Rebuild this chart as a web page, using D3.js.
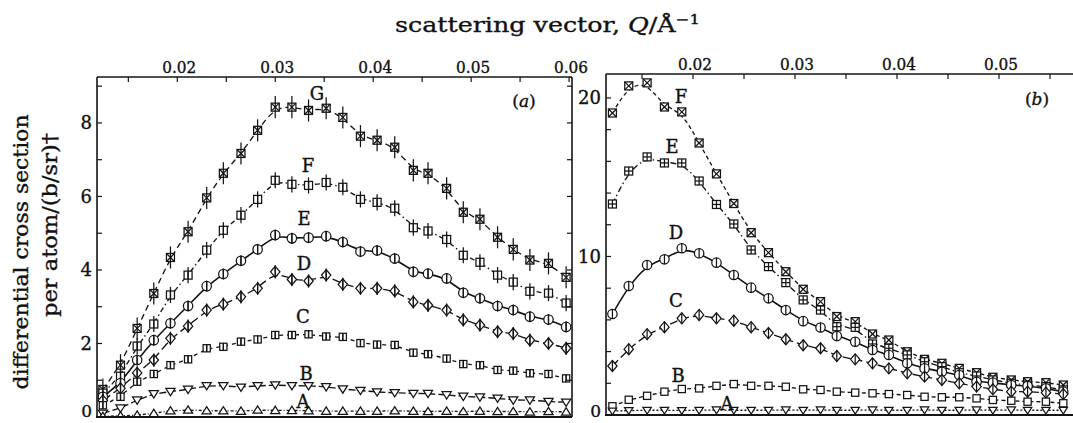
<!DOCTYPE html>
<html><head><meta charset="utf-8">
<script src="https://cdn.jsdelivr.net/npm/d3@7"></script>
<style>
html,body{margin:0;padding:0;background:#fff;}
svg{display:block;}
text{font-family:"DejaVu Serif","Liberation Serif",serif;fill:#111;stroke:#111;stroke-width:0.35;}
</style></head><body>
<svg id="chart" width="1073" height="423"></svg>
<script>
// ---------------- data ----------------
// panel (a)
const qA = [0.0124,0.0142,0.0159,0.0176,0.0193,0.0211,0.0230,0.0247,0.0265,0.0282,0.0300,0.0317,0.0334,0.0352,0.0369,0.0387,0.0404,0.0422,0.0441,0.0456,0.0475,0.0492,0.0509,0.0527,0.0543,0.0560,0.0579,0.0597];
const gA = [0.75,1.41,2.41,3.36,4.34,5.04,5.96,6.63,7.17,7.80,8.43,8.43,8.34,8.40,8.15,7.64,7.53,7.34,6.71,6.63,6.22,5.57,5.38,4.89,4.56,4.27,4.18,3.80];
const fA = [0.65,1.11,1.93,2.53,3.32,3.86,4.54,5.08,5.49,5.92,6.44,6.33,6.30,6.38,6.25,5.92,5.84,5.68,5.15,5.06,4.83,4.40,4.21,3.86,3.67,3.42,3.37,3.10];
const eA = [0.55,0.92,1.55,2.09,2.55,3.02,3.56,3.89,4.25,4.56,4.95,4.86,4.88,4.92,4.76,4.50,4.53,4.31,3.95,3.90,3.77,3.38,3.23,3.02,2.91,2.73,2.65,2.45];
const dA = [0.45,0.78,1.20,1.55,2.14,2.47,2.91,3.07,3.27,3.50,3.95,3.74,3.70,3.86,3.61,3.50,3.50,3.43,3.13,3.04,2.91,2.64,2.50,2.32,2.27,2.09,2.00,1.87];
const cA = [0.32,0.55,0.96,1.17,1.41,1.57,1.87,1.91,2.05,2.11,2.23,2.23,2.25,2.19,2.18,2.01,1.97,1.96,1.75,1.71,1.59,1.44,1.41,1.28,1.26,1.19,1.17,1.05];
const bA = [0.10,0.24,0.46,0.63,0.69,0.75,0.85,0.85,0.81,0.85,0.87,0.85,0.85,0.82,0.76,0.72,0.68,0.66,0.64,0.64,0.60,0.56,0.54,0.51,0.46,0.46,0.42,0.40];
const aA = [0.02,0.03,0.05,0.10,0.17,0.19,0.17,0.17,0.16,0.19,0.18,0.18,0.17,0.16,0.16,0.16,0.16,0.17,0.16,0.15,0.16,0.15,0.16,0.15,0.15,0.14,0.15,0.14];
const errA = {G:0.30, F:0.22, E:0.15, D:0.18, C:0.08, B:0, A:0};

// panel (b)
const qB = [0.0121,0.0137,0.0155,0.0172,0.0189,0.0206,0.0223,0.0240,0.0257,0.0274,0.0291,0.0308,0.0325,0.0341,0.0359,0.0376,0.0392,0.0410,0.0427,0.0444,0.0461,0.0478,0.0494,0.0512,0.0528,0.0546,0.0563];
const fB = [19.05,20.76,20.95,19.43,19.12,17.16,15.21,13.34,11.50,10.24,9.04,7.93,7.15,6.21,5.89,5.11,4.73,3.99,3.51,3.26,2.94,2.67,2.38,2.21,2.10,2.04,1.89];
const eB = [13.31,15.39,16.28,15.90,15.90,14.76,13.28,12.05,10.41,9.36,8.35,7.26,6.62,5.57,5.53,4.48,4.21,3.79,3.36,3.05,2.67,2.46,2.21,2.00,1.89,1.79,1.58];
const dB = [6.37,8.14,9.46,9.82,10.52,10.20,9.61,8.83,8.03,7.36,6.62,5.92,5.52,4.98,4.62,4.10,3.79,3.26,2.94,2.73,2.52,2.10,2.04,1.89,1.83,1.68,1.47];
const cB = [3.09,4.15,5.10,5.54,6.10,6.31,6.10,5.95,5.54,5.17,4.78,4.40,4.21,3.72,3.51,3.26,2.94,2.63,2.42,2.21,2.00,1.79,1.62,1.47,1.47,1.41,1.32];
const bB = [0.55,0.96,1.21,1.47,1.64,1.68,1.84,1.95,1.84,1.84,1.78,1.62,1.58,1.47,1.41,1.37,1.32,1.26,1.15,1.12,1.12,1.05,0.95,0.90,0.84,0.84,0.74];
const aB = [0.25,0.28,0.30,0.30,0.28,0.30,0.32,0.30,0.30,0.30,0.32,0.30,0.32,0.30,0.30,0.32,0.30,0.30,0.32,0.30,0.30,0.32,0.30,0.32,0.30,0.30,0.30];

// ticks
const xTicksA = [0.015,0.02,0.025,0.03,0.035,0.04,0.045,0.05,0.055,0.06];
const xLabelsA = [0.02,0.03,0.04,0.05,0.06];
const yTicksA = [1,2,3,4,5,6,7,8,9];
const yLabelsA = [0,2,4,6,8];
const xTicksB = [0.015,0.02,0.025,0.03,0.035,0.04,0.045,0.05,0.055];
const xLabelsB = [0.02,0.03,0.04,0.05];
const yTicksB = [2,4,6,8,10,12,14,16,18,20];
const yLabelsB = [0,10,20];

// ---------------- layout / style ----------------
const svg = d3.select('#chart');
const INK = '#141414';

const panels = [
  {key:'a', x0:97, x1:572, y0:77, y1:417, qd:[0.0118,0.0603], vd:[0,9.25], q:qA,
   xt:xTicksA, xl:xLabelsA, yt:yTicksA, yl:yLabelsA, rightAxis:true, tagPos:[524,107],
   series:[
     {name:'G', v:gA, mk:'sqx', s:4,   dash:'6,4',        err:errA.G, lab:[317,100]},
     {name:'F', v:fA, mk:'sqv', s:4,   dash:'5,3,1.5,3',  err:errA.F, lab:[308,172]},
     {name:'E', v:eA, mk:'cv',  s:4.7, dash:null,         err:errA.E, lab:[304,225]},
     {name:'D', v:dA, mk:'dv',  s:5.5, dash:'9,4',        err:errA.D, lab:[304,270]},
     {name:'C', v:cA, mk:'sqv', s:3.6, dash:'4,4',        err:errA.C, lab:[303,323]},
     {name:'B', v:bA, mk:'tdown', s:4.6, dash:'7,3',      err:errA.B, lab:[306,380]},
     {name:'A', v:aA, mk:'tup', s:4.6, dash:'3,2,1,2',    err:errA.A, lab:[303,408]}
   ]},
  {key:'b', x0:606, x1:1100, y0:74, y1:415, qd:[0.01147,0.0599], vd:[0,21.51], q:qB,
   xt:xTicksB, xl:xLabelsB, yt:yTicksB, yl:yLabelsB, rightAxis:false, tagPos:[1037,105],
   series:[
     {name:'F', v:fB, mk:'sqx', s:4,   dash:'4,3',        err:0, lab:[681,103]},
     {name:'E', v:eB, mk:'sqp', s:4,   dash:'6,3,1.5,3',  err:0, lab:[672,153]},
     {name:'D', v:dB, mk:'cv',  s:4.7, dash:null,         err:0, lab:[676,239]},
     {name:'C', v:cB, mk:'dv',  s:5.5, dash:'8,4',        err:0, lab:[676,307]},
     {name:'B', v:bB, mk:'sq',  s:3.6, dash:'4,3',        err:0, lab:[678,382]},
     {name:'A', v:aB, mk:'tdown', s:4.2, dash:'2,2',      err:0, lab:[727,410]}
   ]}
];

function marker(g, type, cx, cy, s) {
  const st = {stroke:INK, 'stroke-width':1.25, fill:'#fff'};
  const add = (tag, attrs) => { const e = g.append(tag); Object.entries({...st, ...attrs}).forEach(([k,v])=>e.attr(k,v)); return e; };
  const ln = (x1,y1,x2,y2) => add('line',{x1,y1,x2,y2,fill:'none'});
  switch(type){
    case 'sqx': add('rect',{x:cx-s,y:cy-s,width:2*s,height:2*s}); ln(cx-s,cy-s,cx+s,cy+s); ln(cx-s,cy+s,cx+s,cy-s); break;
    case 'sqp': add('rect',{x:cx-s,y:cy-s,width:2*s,height:2*s}); ln(cx-s,cy,cx+s,cy); ln(cx,cy-s,cx,cy+s); break;
    case 'sqv': add('rect',{x:cx-s,y:cy-s,width:2*s,height:2*s}); ln(cx,cy-s,cx,cy+s); break;
    case 'sq':  add('rect',{x:cx-s,y:cy-s,width:2*s,height:2*s}); break;
    case 'cv':  add('circle',{cx,cy,r:s}); ln(cx,cy-s,cx,cy+s); break;
    case 'dv':  add('path',{d:`M${cx},${cy-s}L${cx+s*0.85},${cy}L${cx},${cy+s}L${cx-s*0.85},${cy}Z`}); ln(cx,cy-s,cx,cy+s); break;
    case 'tdown': add('path',{d:`M${cx-s},${cy-s*0.7}L${cx+s},${cy-s*0.7}L${cx},${cy+s*0.9}Z`}); break;
    case 'tup': add('path',{d:`M${cx-s},${cy+s*0.7}L${cx+s},${cy+s*0.7}L${cx},${cy-s*0.9}Z`}); break;
  }
}

panels.forEach(p => {
  const x = d3.scaleLinear().domain(p.qd).range([p.x0, p.x1]);
  const y = d3.scaleLinear().domain(p.vd).range([p.y1, p.y0]);
  const clipId = 'clip-' + p.key;
  svg.append('clipPath').attr('id', clipId).append('rect')
    .attr('x', p.x0).attr('y', p.y0 - 10).attr('width', Math.min(p.x1, 1073) - p.x0).attr('height', p.y1 - p.y0 + 10);
  const g = svg.append('g').attr('clip-path', `url(#${clipId})`);

  // curves
  p.series.forEach(sr => {
    const pts = p.q.map((q,i)=>[q, sr.v[i]]);
    const line = d3.line().x(d=>x(d[0])).y(d=>y(d[1])).curve(d3.curveBasis);
    g.append('path').attr('d', line(pts)).attr('fill','none').attr('stroke',INK)
      .attr('stroke-width', sr.dash ? 1.35 : 1.6).attr('stroke-dasharray', sr.dash);
  });
  // markers + error bars
  p.series.forEach(sr => {
    const mg = g.append('g');
    p.q.forEach((q,i) => {
      const cx = x(q), cy = y(sr.v[i]);
      marker(mg, sr.mk, cx, cy, sr.s);
      if (sr.err > 0) {
        mg.append('line').attr('x1',cx).attr('x2',cx)
          .attr('y1', Math.min(y(sr.v[i]+sr.err), cy - sr.s)).attr('y2', Math.max(y(sr.v[i]-sr.err), cy + sr.s))
          .attr('stroke',INK).attr('stroke-width',1.25);
      }
    });
  });

  // frame
  const fr = svg.append('g').attr('stroke',INK).attr('fill','none');
  const xr = Math.min(p.x1, 1080);
  fr.append('line').attr('x1',p.x0).attr('x2',xr).attr('y1',p.y0).attr('y2',p.y0).attr('stroke-width',1.5);
  fr.append('line').attr('x1',p.x0).attr('x2',p.x0).attr('y1',p.y0).attr('y2',p.y1).attr('stroke-width',1.6);
  fr.append('line').attr('x1',p.x0-1).attr('x2',xr).attr('y1',p.y1).attr('y2',p.y1).attr('stroke-width',2.2);
  if (p.rightAxis) fr.append('line').attr('x1',p.x1).attr('x2',p.x1).attr('y1',p.y0).attr('y2',p.y1).attr('stroke-width',1.6);

  // ticks (inward)
  const tl = 5;
  p.xt.forEach(t => fr.append('line').attr('x1',x(t)).attr('x2',x(t)).attr('y1',p.y0).attr('y2',p.y0+tl).attr('stroke-width',1.2));
  p.yt.forEach(t => {
    fr.append('line').attr('x1',p.x0).attr('x2',p.x0+tl).attr('y1',y(t)).attr('y2',y(t)).attr('stroke-width',1.2);
    if (p.rightAxis) fr.append('line').attr('x1',p.x1).attr('x2',p.x1-tl).attr('y1',y(t)).attr('y2',y(t)).attr('stroke-width',1.2);
  });
  // tick labels
  p.xl.forEach(t => svg.append('text').attr('x', x(t)+2).attr('y', p.y0-4).attr('text-anchor','middle')
     .attr('font-size',16).attr('textLength',34).attr('lengthAdjust','spacingAndGlyphs').text(d3.format('.2f')(t)));
  p.yl.forEach(t => svg.append('text').attr('x', p.x0-5).attr('y', Math.min(y(t) + 6.5, 417)).attr('text-anchor','end')
     .attr('font-size', t === 0 ? 17 : 18).text(t));

  // series labels
  p.series.forEach(sr => svg.append('text').attr('x',sr.lab[0]).attr('y',sr.lab[1]).attr('text-anchor','middle')
     .attr('font-size',18).text(sr.name));
  // panel tag
  const tg = svg.append('text').attr('x',p.tagPos[0]).attr('y',p.tagPos[1]).attr('text-anchor','middle').attr('font-size',17);
  tg.append('tspan').text('(');
  tg.append('tspan').attr('font-style','italic').text(p.key);
  tg.append('tspan').text(')');
});

// title
const title = svg.append('text').attr('x',395).attr('y',32).attr('font-size',20)
  .attr('textLength',305).attr('lengthAdjust','spacingAndGlyphs');
title.append('tspan').text('scattering vector, ');
title.append('tspan').attr('font-style','italic').text('Q');
title.append('tspan').text('/Å');
title.append('tspan').attr('font-size',13).attr('dy',-8).text('−1');

// y-axis label
function ylab(txt, bx, cy, len, fs){
  svg.append('text').attr('transform',`translate(${bx},${cy}) rotate(-90)`).attr('text-anchor','middle')
    .attr('font-size',fs).attr('textLength',len).attr('lengthAdjust','spacingAndGlyphs').text(txt);
}
ylab('differential cross section', 28, 252, 275, 21);
ylab('per atom/(b/sr)†', 57, 225, 184, 21);
</script>
</body></html>
